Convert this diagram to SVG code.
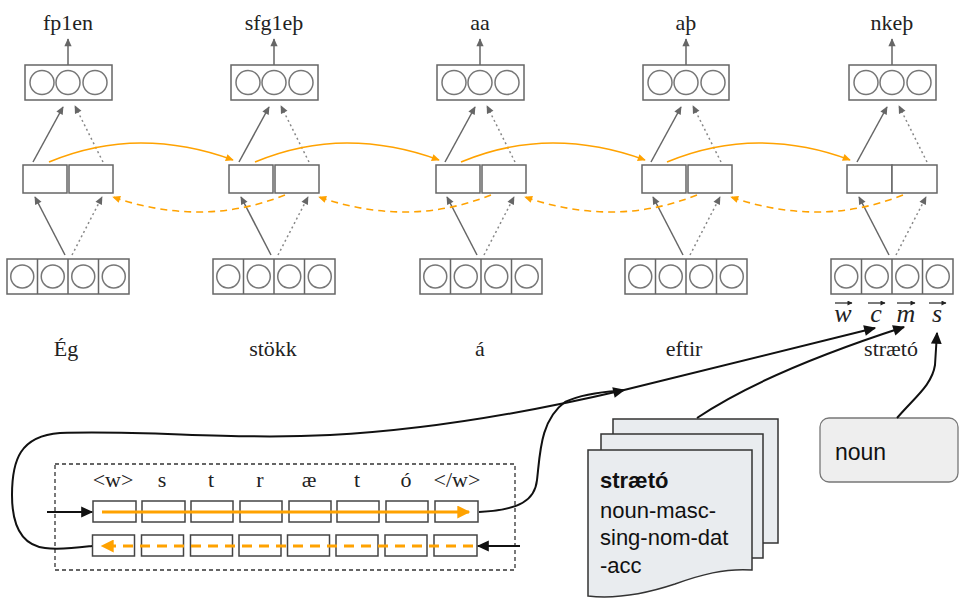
<svg xmlns="http://www.w3.org/2000/svg" width="961" height="599" viewBox="0 0 961 599">
<style>
.box{fill:#fff;stroke:#666;stroke-width:1.5}
.cir{fill:none;stroke:#777;stroke-width:1.5}
.ga{fill:none;stroke:#666;stroke-width:1.5;marker-end:url(#mg)}
.gd{fill:none;stroke:#888;stroke-width:1.5;stroke-dasharray:2 3;marker-end:url(#mg)}
.of{fill:none;stroke:#FFA200;stroke-width:1.6;marker-end:url(#mo)}
.ob{fill:none;stroke:#FFA200;stroke-width:1.6;stroke-dasharray:7 5;marker-end:url(#mo)}
.ser{font-family:"Liberation Serif","Times New Roman",serif;fill:#222;text-anchor:middle}
.lbl{font-size:22px}
.vec{font-size:26px;font-style:italic}
.va{fill:none;stroke:#222;stroke-width:1.2;marker-end:url(#mv)}
.cell{fill:#fff;stroke:#444;stroke-width:1.5}
.bk{fill:none;stroke:#111;stroke-width:2}
.doc{fill:#e9ecef;stroke:#333;stroke-width:1.5}
.sans{font-family:"Liberation Sans",Arial,sans-serif;fill:#111}
</style>
<defs>
<marker id="mg" viewBox="0 0 10 10" refX="9" refY="5" markerWidth="9" markerHeight="8" markerUnits="userSpaceOnUse" orient="auto"><path d="M0,0.5 L10,5 L0,9.5 z" fill="#666"/></marker>
<marker id="mo" viewBox="0 0 10 10" refX="9" refY="5" markerWidth="10" markerHeight="8" markerUnits="userSpaceOnUse" orient="auto"><path d="M0,0.5 L10,5 L0,9.5 z" fill="#FFA200"/></marker>
<marker id="mob" viewBox="0 0 10 10" refX="9" refY="5" markerWidth="16" markerHeight="13" markerUnits="userSpaceOnUse" orient="auto"><path d="M0,0 L10,5 L0,10 z" fill="#FFA200"/></marker>
<marker id="mk" viewBox="0 0 10 10" refX="9" refY="5" markerWidth="16" markerHeight="12" markerUnits="userSpaceOnUse" orient="auto"><path d="M0,0.5 L10,5 L0,9.5 z" fill="#111"/></marker>
<marker id="mv" viewBox="0 0 10 10" refX="9" refY="5" markerWidth="6" markerHeight="5" markerUnits="userSpaceOnUse" orient="auto"><path d="M0,0 L10,5 L0,10 z" fill="#222"/></marker>
</defs>
<rect width="961" height="599" fill="#fff"/>

<g id="col1">
<text class="ser lbl" x="68" y="30">fp1en</text>
<rect class="box" x="25" y="65" width="87" height="35"/>
<circle class="cir" cx="42" cy="82.5" r="12"/><circle class="cir" cx="68" cy="82.5" r="12"/><circle class="cir" cx="95" cy="82.5" r="12"/>
<rect class="box" x="23" y="165" width="44" height="28"/><rect class="box" x="69" y="165" width="44" height="28"/>
<rect class="box" x="7" y="259" width="122" height="35"/>
<path d="M37.5,259V294M68,259V294M98.5,259V294" stroke="#666" stroke-width="1.5"/>
<circle class="cir" cx="22.25" cy="276.5" r="11.5"/><circle class="cir" cx="52.75" cy="276.5" r="11.5"/><circle class="cir" cx="83.25" cy="276.5" r="11.5"/><circle class="cir" cx="113.75" cy="276.5" r="11.5"/>
<text class="ser lbl" x="66" y="356">Ég</text>
</g>
<g id="col2">
<text class="ser lbl" x="274" y="30">sfg1eþ</text>
<rect class="box" x="231" y="65" width="87" height="35"/>
<circle class="cir" cx="248" cy="82.5" r="12"/><circle class="cir" cx="274" cy="82.5" r="12"/><circle class="cir" cx="301" cy="82.5" r="12"/>
<rect class="box" x="229" y="165" width="44" height="28"/><rect class="box" x="275" y="165" width="44" height="28"/>
<rect class="box" x="213" y="259" width="122" height="35"/>
<path d="M243.5,259V294M274,259V294M304.5,259V294" stroke="#666" stroke-width="1.5"/>
<circle class="cir" cx="228.25" cy="276.5" r="11.5"/><circle class="cir" cx="258.75" cy="276.5" r="11.5"/><circle class="cir" cx="289.25" cy="276.5" r="11.5"/><circle class="cir" cx="319.75" cy="276.5" r="11.5"/>
<text class="ser lbl" x="273" y="356">stökk</text>
</g>
<g id="col3">
<text class="ser lbl" x="480" y="30">aa</text>
<rect class="box" x="437" y="65" width="87" height="35"/>
<circle class="cir" cx="454" cy="82.5" r="12"/><circle class="cir" cx="480" cy="82.5" r="12"/><circle class="cir" cx="507" cy="82.5" r="12"/>
<rect class="box" x="436" y="165" width="44" height="28"/><rect class="box" x="482" y="165" width="44" height="28"/>
<rect class="box" x="420" y="259" width="122" height="35"/>
<path d="M450.5,259V294M481,259V294M511.5,259V294" stroke="#666" stroke-width="1.5"/>
<circle class="cir" cx="435.25" cy="276.5" r="11.5"/><circle class="cir" cx="465.75" cy="276.5" r="11.5"/><circle class="cir" cx="496.25" cy="276.5" r="11.5"/><circle class="cir" cx="526.75" cy="276.5" r="11.5"/>
<text class="ser lbl" x="480" y="356">á</text>
</g>
<g id="col4">
<text class="ser lbl" x="686" y="30">aþ</text>
<rect class="box" x="643" y="65" width="86" height="35"/>
<circle class="cir" cx="660" cy="82.5" r="12"/><circle class="cir" cx="686" cy="82.5" r="12"/><circle class="cir" cx="713" cy="82.5" r="12"/>
<rect class="box" x="642" y="165" width="44" height="28"/><rect class="box" x="688" y="165" width="44" height="28"/>
<rect class="box" x="625" y="259" width="122" height="35"/>
<path d="M655.5,259V294M686,259V294M716.5,259V294" stroke="#666" stroke-width="1.5"/>
<circle class="cir" cx="640.25" cy="276.5" r="11.5"/><circle class="cir" cx="670.75" cy="276.5" r="11.5"/><circle class="cir" cx="701.25" cy="276.5" r="11.5"/><circle class="cir" cx="731.75" cy="276.5" r="11.5"/>
<text class="ser lbl" x="684" y="356">eftir</text>
</g>
<g id="col5">
<text class="ser lbl" x="892" y="30">nkeþ</text>
<rect class="box" x="849" y="65" width="87" height="35"/>
<circle class="cir" cx="866" cy="82.5" r="12"/><circle class="cir" cx="892" cy="82.5" r="12"/><circle class="cir" cx="919" cy="82.5" r="12"/>
<rect class="box" x="847" y="165" width="45" height="28"/><rect class="box" x="892" y="165" width="45" height="28"/>
<rect class="box" x="831" y="259" width="122" height="35"/>
<path d="M861.5,259V294M892,259V294M922.5,259V294" stroke="#666" stroke-width="1.5"/>
<circle class="cir" cx="846.25" cy="276.5" r="11.5"/><circle class="cir" cx="876.75" cy="276.5" r="11.5"/><circle class="cir" cx="907.25" cy="276.5" r="11.5"/><circle class="cir" cx="937.75" cy="276.5" r="11.5"/>
<text class="ser vec" x="843" y="322">w</text>
<text class="ser vec" x="876" y="322">c</text>
<text class="ser vec" x="906" y="322">m</text>
<text class="ser vec" x="937" y="322">s</text>
<path class="va" d="M835,303H852"/>
<path class="va" d="M868,303H885"/>
<path class="va" d="M897,303H915"/>
<path class="va" d="M929,303H946"/>
<text class="ser lbl" x="891" y="356">strætó</text>
</g>

<g id="charbox">
<rect x="55" y="464" width="460" height="106" fill="none" stroke="#333" stroke-width="1.3" stroke-dasharray="4 3"/>
<text class="ser lbl" x="113" y="487">&lt;w&gt;</text>
<text class="ser lbl" x="162" y="487">s</text>
<text class="ser lbl" x="211" y="487">t</text>
<text class="ser lbl" x="260" y="487">r</text>
<text class="ser lbl" x="309" y="487">æ</text>
<text class="ser lbl" x="357" y="487">t</text>
<text class="ser lbl" x="406" y="487">ó</text>
<text class="ser lbl" x="457" y="487">&lt;/w&gt;</text>
<rect class="cell" x="93" y="501" width="43" height="21"/><rect class="cell" x="142" y="501" width="43" height="21"/><rect class="cell" x="191" y="501" width="42" height="21"/><rect class="cell" x="240" y="501" width="42" height="21"/><rect class="cell" x="289" y="501" width="42" height="21"/><rect class="cell" x="337" y="501" width="42" height="21"/><rect class="cell" x="386" y="501" width="42" height="21"/><rect class="cell" x="435" y="501" width="43" height="21"/>
<rect class="cell" x="92.5" y="535" width="42" height="21"/><rect class="cell" x="141.5" y="535" width="42" height="21"/><rect class="cell" x="190.5" y="535" width="42" height="21"/><rect class="cell" x="239" y="535" width="42" height="21"/><rect class="cell" x="287.5" y="535" width="42" height="21"/><rect class="cell" x="336" y="535" width="42" height="21"/><rect class="cell" x="385" y="535" width="42" height="21"/><rect class="cell" x="434" y="535" width="43" height="21"/>
<path d="M102,512H469" stroke="#FFA200" stroke-width="3" fill="none" marker-end="url(#mob)"/>
<path d="M473,546H102" stroke="#FFA200" stroke-width="3" stroke-dasharray="10 7" fill="none" marker-end="url(#mob)"/>
</g>

<g id="docs">
<rect class="doc" x="613" y="419" width="165" height="124"/>
<rect class="doc" x="601" y="434" width="162" height="124"/>
<path class="doc" d="M588,450H752V570C725,568 700,575 675,584C645,594 615,599 588,596Z"/>
<text class="sans" x="600" y="488" font-size="22" font-weight="bold">strætó</text>
<text class="sans" x="600" y="518" font-size="22">noun-masc-</text>
<text class="sans" x="600" y="545" font-size="22">sing-nom-dat</text>
<text class="sans" x="600" y="573" font-size="22">-acc</text>
</g>

<g id="noun">
<rect x="820" y="418" width="138" height="64" rx="9" fill="#eeeeee" stroke="#777" stroke-width="1.3"/>
<text class="sans" x="835" y="460" font-size="23">noun</text>
</g>

<g id="connectors">
<path class="ga" d="M68,65V39"/><path class="ga" d="M274,65V39"/><path class="ga" d="M480,65V39"/><path class="ga" d="M686,65V39"/><path class="ga" d="M892,65V39"/>
<path class="ga" d="M65,255L35,197"/><path class="gd" d="M72,255L102,197"/><path class="ga" d="M33,162L63,107"/><path class="gd" d="M103,162L75,106"/>
<path class="ga" d="M271,255L241,197"/><path class="gd" d="M278,255L308,197"/><path class="ga" d="M239,162L269,107"/><path class="gd" d="M309,162L281,106"/>
<path class="ga" d="M477,255L447,197"/><path class="gd" d="M484,255L514,197"/><path class="ga" d="M445,162L475,107"/><path class="gd" d="M515,162L487,106"/>
<path class="ga" d="M683,255L653,197"/><path class="gd" d="M690,255L720,197"/><path class="ga" d="M651,162L681,107"/><path class="gd" d="M721,162L693,106"/>
<path class="ga" d="M889,255L859,197"/><path class="gd" d="M896,255L926,197"/><path class="ga" d="M857,162L887,107"/><path class="gd" d="M927,162L899,106"/>
<path class="of" d="M49,162Q95,143 141,143T233,160"/>
<path class="of" d="M255,162Q301,143 347,143T439,160"/>
<path class="of" d="M461,162Q507,143 553,143T645,160"/>
<path class="of" d="M667,162Q713,143 759,143T850,160"/>
<path class="ob" d="M285,195Q242,212 199,212T113,197"/>
<path class="ob" d="M491,195Q448,212 405,212T319,197"/>
<path class="ob" d="M697,195Q654,212 611,212T525,197"/>
<path class="ob" d="M903,195Q860,212 817,212T731,197"/>
<path d="M47,512H92" class="bk" marker-end="url(#mk)"/>
<path d="M520,546H478" class="bk" marker-end="url(#mk)"/>
<path class="bk" d="M92,546C75,548 60,550 45,548C20,545 12,522 12,495C12,460 20,436 60,433C150,430 230,440 330,435C430,430 530,412 624,390" marker-end="url(#mk)"/>
<path class="bk" d="M479,512C520,510 535,500 537,480C540,455 540,420 565,402C580,395 600,392 618,391"/>
<path class="bk" d="M620,391L875,328" marker-end="url(#mk)"/>
<path class="bk" d="M697,418Q765,372 904,327" marker-end="url(#mk)"/>
<path class="bk" d="M897,418C915,397 932,385 935,365L937,333" marker-end="url(#mk)"/>
</g>
</svg>
